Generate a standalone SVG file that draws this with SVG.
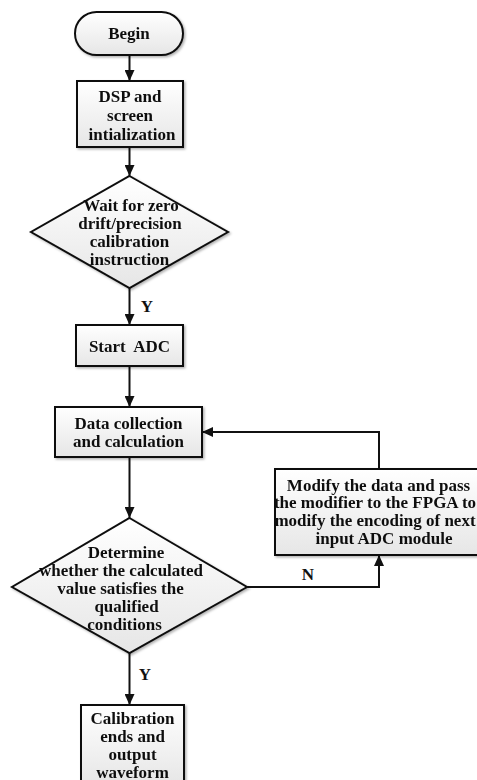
<svg xmlns="http://www.w3.org/2000/svg" width="477" height="780" viewBox="0 0 477 780">
<style>
.s{fill:url(#g);stroke:#111;stroke-width:2;}
.t{font-family:"Liberation Serif","Times New Roman",serif;font-weight:bold;font-size:17px;fill:#111;text-anchor:middle;}
.c{fill:none;stroke:#111;stroke-width:2;marker-end:url(#a);}
</style>
<defs>
<linearGradient id="g" x1="0" y1="0" x2="0" y2="1">
<stop offset="0" stop-color="#ffffff"/>
<stop offset="1" stop-color="#e6e6e6"/>
</linearGradient>
<filter id="sh" x="-10%" y="-10%" width="130%" height="130%">
<feDropShadow dx="1.5" dy="1.5" stdDeviation="1" flood-color="#000" flood-opacity="0.3"/>
</filter>
<marker id="a" markerUnits="userSpaceOnUse" markerWidth="12" markerHeight="10" refX="11" refY="5" orient="auto">
<path d="M0,0 L11,5 L0,10 Z" fill="#111"/>
</marker>
</defs>
<g id="connectors">
<path class="c" d="M129.5,55 V81"/>
<path class="c" d="M129.5,147 V176"/>
<path class="c" d="M129.5,288 V325"/>
<path class="c" d="M129.5,366 V407"/>
<path class="c" d="M129.5,457 V518"/>
<path class="c" d="M129.5,653 V705"/>
<path class="c" d="M247,587 H379 V555"/>
<path class="c" d="M379,469 V432 H202"/>
<text class="t" x="147" y="312">Y</text>
<text class="t" x="145" y="680">Y</text>
<text class="t" x="308" y="580">N</text>
</g>
<g id="begin" filter="url(#sh)">
<rect class="s" x="75" y="12" width="108" height="43" rx="21.5"/>
<text class="t" x="129" y="39">Begin</text>
</g>
<g id="init" filter="url(#sh)">
<rect class="s" x="77" y="81" width="106" height="66"/>
<text class="t" x="130" y="102">DSP and</text>
<text class="t" x="130" y="121">screen</text>
<text class="t" x="132" y="140">intialization</text>
</g>
<g id="wait" filter="url(#sh)">
<path class="s" d="M129.5,176 L228,232 L129.5,288 L31,232 Z"/>
<text class="t" x="131" y="210.5">Wait for zero</text>
<text class="t" x="130" y="228.5">drift/precision</text>
<text class="t" x="129.5" y="247">calibration</text>
<text class="t" x="129.5" y="265">instruction</text>
</g>
<g id="start" filter="url(#sh)">
<rect class="s" x="76" y="325" width="107" height="41"/>
<text class="t" x="129.5" y="351.5" xml:space="preserve">Start  ADC</text>
</g>
<g id="collect" filter="url(#sh)">
<rect class="s" x="55" y="407" width="147" height="50"/>
<text class="t" x="128.5" y="428.5">Data collection</text>
<text class="t" x="128.5" y="447">and calculation</text>
</g>
<g id="modify" filter="url(#sh)">
<rect class="s" x="275" y="469" width="220" height="86"/>
<text class="t" x="378.5" y="490.5">Modify the data and pass</text>
<text class="t" x="375" y="508">the modifier to the FPGA to</text>
<text class="t" x="375" y="525.5">modify the encoding of next</text>
<text class="t" x="384" y="543.5">input ADC module</text>
</g>
<g id="determine" filter="url(#sh)">
<path class="s" d="M129.5,518 L247,587 L129.5,653 L12,587 Z"/>
<text class="t" x="126" y="558">Determine</text>
<text class="t" x="121" y="576">whether the calculated</text>
<text class="t" x="120.5" y="594">value satisfies the</text>
<text class="t" x="126.5" y="612">qualified</text>
<text class="t" x="124.5" y="630">conditions</text>
</g>
<g id="end" filter="url(#sh)">
<rect class="s" x="81" y="705" width="103" height="80"/>
<text class="t" x="132.5" y="723.5">Calibration</text>
<text class="t" x="132.5" y="741.5">ends and</text>
<text class="t" x="132.5" y="759.5">output</text>
<text class="t" x="132.5" y="777.5">waveform</text>
</g>
</svg>
